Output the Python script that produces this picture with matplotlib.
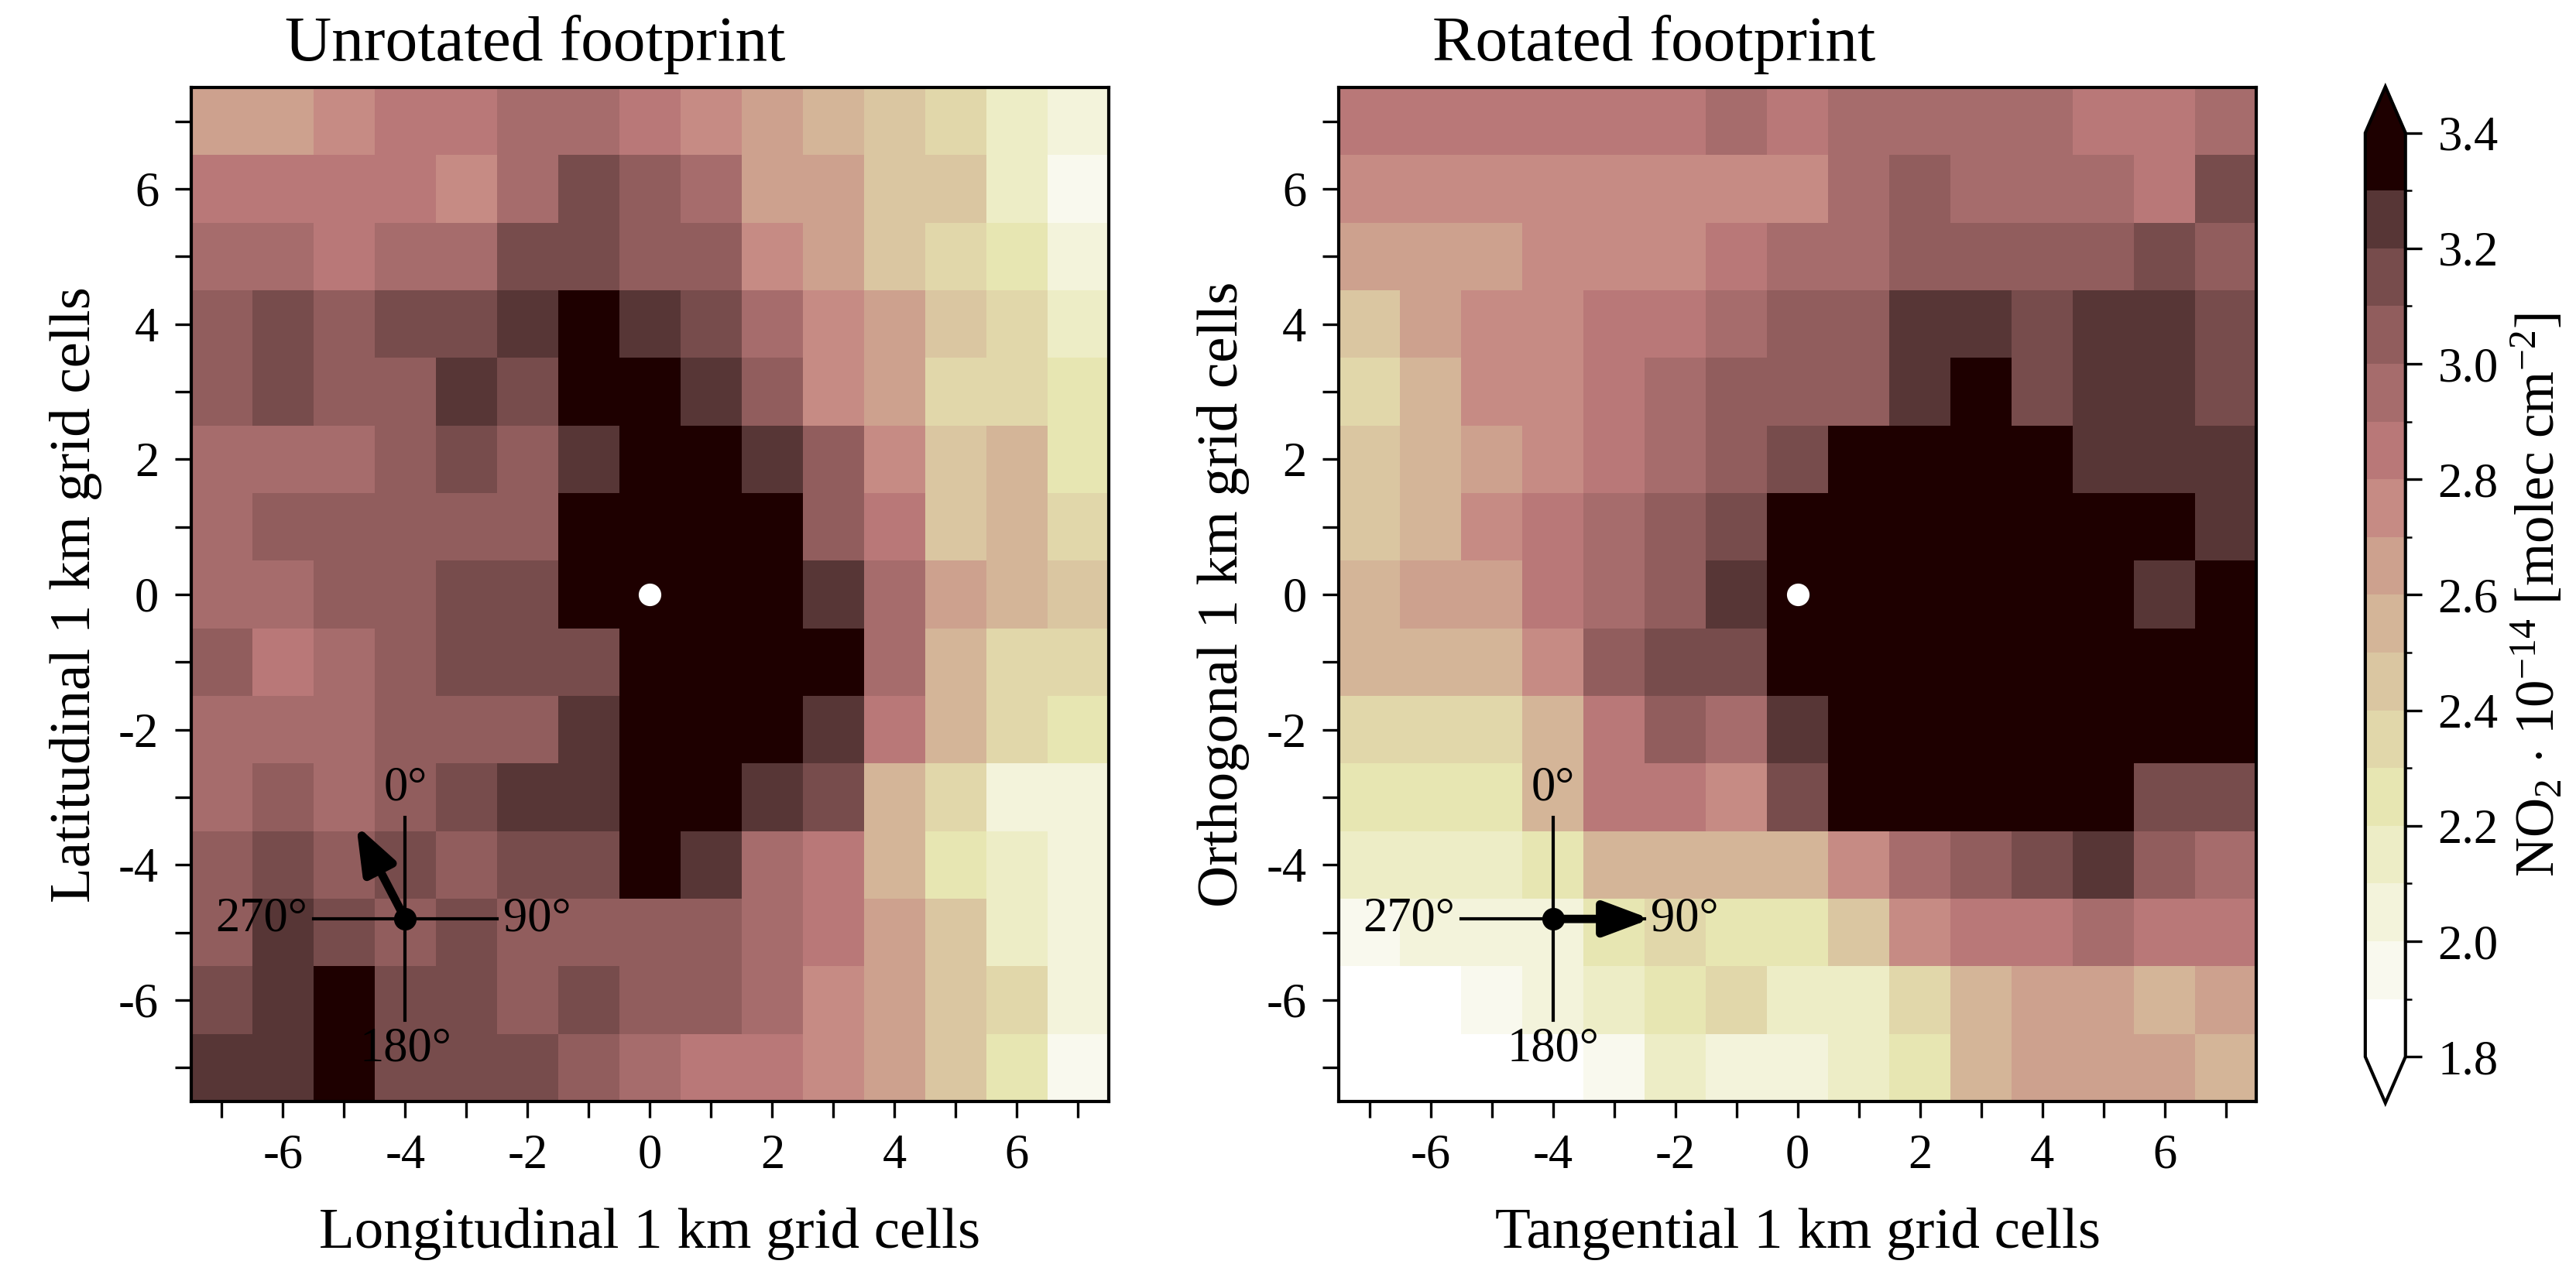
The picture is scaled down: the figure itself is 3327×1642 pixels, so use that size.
import numpy as np
import matplotlib
matplotlib.use("Agg")
import matplotlib.pyplot as plt
from matplotlib.colors import BoundaryNorm

plt.rcParams['font.family'] = ['Liberation Serif', 'DejaVu Serif']
plt.rcParams['mathtext.fontset'] = 'custom'
plt.rcParams['mathtext.rm'] = 'Liberation Serif'
plt.rcParams['mathtext.it'] = 'Liberation Serif:italic'
plt.rcParams['axes.unicode_minus'] = False

# grid cell centres (1 km cells around the source)
cells = np.arange(-7, 8)

# NO2 columns (1e14 molec cm-2), rows from top (y=7) to bottom (y=-7)
unrotated = [
    [2.65, 2.65, 2.75, 2.85, 2.85, 2.95, 2.95, 2.85, 2.75, 2.65, 2.55, 2.45, 2.35, 2.15, 2.05],
    [2.85, 2.85, 2.85, 2.85, 2.75, 2.95, 3.15, 3.05, 2.95, 2.65, 2.65, 2.45, 2.45, 2.15, 1.95],
    [2.95, 2.95, 2.85, 2.95, 2.95, 3.15, 3.15, 3.05, 3.05, 2.75, 2.65, 2.45, 2.35, 2.25, 2.05],
    [3.05, 3.15, 3.05, 3.15, 3.15, 3.25, 3.35, 3.25, 3.15, 2.95, 2.75, 2.65, 2.45, 2.35, 2.15],
    [3.05, 3.15, 3.05, 3.05, 3.25, 3.15, 3.35, 3.35, 3.25, 3.05, 2.75, 2.65, 2.35, 2.35, 2.25],
    [2.95, 2.95, 2.95, 3.05, 3.15, 3.05, 3.25, 3.35, 3.35, 3.25, 3.05, 2.75, 2.45, 2.55, 2.25],
    [2.95, 3.05, 3.05, 3.05, 3.05, 3.05, 3.35, 3.35, 3.35, 3.35, 3.05, 2.85, 2.45, 2.55, 2.35],
    [2.95, 2.95, 3.05, 3.05, 3.15, 3.15, 3.35, 3.35, 3.35, 3.35, 3.25, 2.95, 2.65, 2.55, 2.45],
    [3.05, 2.85, 2.95, 3.05, 3.15, 3.15, 3.15, 3.35, 3.35, 3.35, 3.35, 2.95, 2.55, 2.35, 2.35],
    [2.95, 2.95, 2.95, 3.05, 3.05, 3.05, 3.25, 3.35, 3.35, 3.35, 3.25, 2.85, 2.55, 2.35, 2.25],
    [2.95, 3.05, 2.95, 3.05, 3.15, 3.25, 3.25, 3.35, 3.35, 3.25, 3.15, 2.55, 2.35, 2.05, 2.05],
    [3.05, 3.15, 3.05, 3.15, 3.05, 3.15, 3.15, 3.35, 3.25, 2.95, 2.85, 2.55, 2.25, 2.15, 2.05],
    [3.05, 3.25, 3.15, 3.05, 3.15, 3.05, 3.05, 3.05, 3.05, 2.95, 2.85, 2.65, 2.45, 2.15, 2.05],
    [3.15, 3.25, 3.35, 3.15, 3.15, 3.05, 3.15, 3.05, 3.05, 2.95, 2.75, 2.65, 2.45, 2.35, 2.05],
    [3.25, 3.25, 3.35, 3.15, 3.15, 3.15, 3.05, 2.95, 2.85, 2.85, 2.75, 2.65, 2.45, 2.25, 1.95],
]

rotated = [
    [2.85, 2.85, 2.85, 2.85, 2.85, 2.85, 2.95, 2.85, 2.95, 2.95, 2.95, 2.95, 2.85, 2.85, 2.95],
    [2.75, 2.75, 2.75, 2.75, 2.75, 2.75, 2.75, 2.75, 2.95, 3.05, 2.95, 2.95, 2.95, 2.85, 3.15],
    [2.65, 2.65, 2.65, 2.75, 2.75, 2.75, 2.85, 2.95, 2.95, 3.05, 3.05, 3.05, 3.05, 3.15, 3.05],
    [2.45, 2.65, 2.75, 2.75, 2.85, 2.85, 2.95, 3.05, 3.05, 3.25, 3.25, 3.15, 3.25, 3.25, 3.15],
    [2.35, 2.55, 2.75, 2.75, 2.85, 2.95, 3.05, 3.05, 3.05, 3.25, 3.35, 3.15, 3.25, 3.25, 3.15],
    [2.45, 2.55, 2.65, 2.75, 2.85, 2.95, 3.05, 3.15, 3.35, 3.35, 3.35, 3.35, 3.25, 3.25, 3.25],
    [2.45, 2.55, 2.75, 2.85, 2.95, 3.05, 3.15, 3.35, 3.35, 3.35, 3.35, 3.35, 3.35, 3.35, 3.25],
    [2.55, 2.65, 2.65, 2.85, 2.95, 3.05, 3.25, 3.35, 3.35, 3.35, 3.35, 3.35, 3.35, 3.25, 3.35],
    [2.55, 2.55, 2.55, 2.75, 3.05, 3.15, 3.15, 3.35, 3.35, 3.35, 3.35, 3.35, 3.35, 3.35, 3.35],
    [2.35, 2.35, 2.35, 2.55, 2.85, 3.05, 2.95, 3.25, 3.35, 3.35, 3.35, 3.35, 3.35, 3.35, 3.35],
    [2.25, 2.25, 2.25, 2.55, 2.85, 2.85, 2.75, 3.15, 3.35, 3.35, 3.35, 3.35, 3.35, 3.15, 3.15],
    [2.15, 2.15, 2.15, 2.25, 2.55, 2.55, 2.55, 2.55, 2.75, 2.95, 3.05, 3.15, 3.25, 3.05, 2.95],
    [1.95, 2.05, 2.05, 2.05, 2.25, 2.35, 2.25, 2.25, 2.45, 2.75, 2.85, 2.85, 2.95, 2.85, 2.85],
    [1.85, 1.85, 1.95, 2.05, 2.15, 2.25, 2.35, 2.15, 2.15, 2.35, 2.55, 2.65, 2.65, 2.55, 2.65],
    [1.85, 1.85, 1.85, 1.85, 1.95, 2.15, 2.05, 2.05, 2.15, 2.25, 2.55, 2.65, 2.65, 2.65, 2.55],
]

# wind direction (deg from north) drawn on the compass
wind_unrot = 330
wind_rot = 90
compass_xy = (-4, -4.8)

levels = np.round(np.arange(1.8, 3.41, 0.1), 2)
cmap = matplotlib.colormaps['pink_r'].resampled(len(levels) - 1)
norm = BoundaryNorm(levels, cmap.N)

fig = plt.figure(figsize=(3327 / 300, 1642 / 300), dpi=300)
ax1 = fig.add_axes([0.0742, 0.1334, 0.3562, 0.7978])
ax2 = fig.add_axes([0.5197, 0.1334, 0.3562, 0.7978])
cax = fig.add_axes([0.9182, 0.1322, 0.0156, 0.7996])

edges = np.arange(-7.5, 8.0, 1.0)


def draw_compass(ax, wind):
    cx, cy = compass_xy
    r = 1.5
    ax.plot([cx - r, cx + r], [cy, cy], color='k', lw=1.0, zorder=3)
    ax.plot([cx, cx], [cy - r, cy + r], color='k', lw=1.0, zorder=3)
    L = 1.6
    dx = L * np.sin(np.deg2rad(wind))
    dy = L * np.cos(np.deg2rad(wind))
    ax.annotate('', xy=(cx + dx, cy + dy), xytext=(cx, cy),
                arrowprops=dict(arrowstyle='-|>,head_width=0.45,head_length=1.2',
                                mutation_scale=10, lw=2.6, color='k',
                                shrinkA=0, shrinkB=0), zorder=4)
    ax.plot(cx, cy, 'o', color='k', ms=6, zorder=5)
    fs = 15
    ax.annotate('0°', (cx, cy + r), xytext=(0, 2), textcoords='offset points',
                ha='center', va='bottom', fontsize=fs)
    ax.annotate('90°', (cx + r, cy), xytext=(2, 0), textcoords='offset points',
                ha='left', va='center', fontsize=fs)
    ax.annotate('180°', (cx, cy - r), xytext=(0, -2), textcoords='offset points',
                ha='center', va='top', fontsize=fs)
    ax.annotate('270°', (cx - r, cy), xytext=(-2, 0), textcoords='offset points',
                ha='right', va='center', fontsize=fs)


panels = [
    (ax1, unrotated, "Unrotated footprint", "Longitudinal 1 km grid cells",
     "Latitudinal 1 km grid cells", wind_unrot),
    (ax2, rotated, "Rotated footprint", "Tangential 1 km grid cells",
     "Orthogonal 1 km grid cells", wind_rot),
]

for ax, data, title, xlab, ylab, wind in panels:
    z = np.flipud(np.array(data))
    mesh = ax.pcolormesh(edges, edges, z, cmap=cmap, norm=norm)
    ax.set_xlim(-7.5, 7.5)
    ax.set_ylim(-7.5, 7.5)
    ax.set_aspect('auto')
    ax.set_xticks(cells)
    ax.set_yticks(cells)
    ax.set_xticklabels([str(c) if c % 2 == 0 else '' for c in cells])
    ax.set_yticklabels([str(c) if c % 2 == 0 else '' for c in cells])
    ax.tick_params(length=5, width=0.8, labelsize=15, pad=5)
    for s in ax.spines.values():
        s.set_linewidth(1.0)
    ax.set_xlabel(xlab, fontsize=18, labelpad=9)
    ax.set_ylabel(ylab, fontsize=18, labelpad=5)
    ax.text(0.102, 1.027, title, transform=ax.transAxes, ha='left',
            va='baseline', fontsize=20)
    ax.plot(0, 0, 'o', color='white', ms=6, zorder=5)
    draw_compass(ax, wind)

cb = fig.colorbar(mesh, cax=cax, extend='both', ticks=levels[::2])
cb.ax.set_yticklabels([f"{v:.1f}" for v in levels[::2]])
cb.ax.tick_params(length=5, width=0.8, labelsize=15, pad=5)
cb.outline.set_linewidth(1.0)
cb.set_label(r"NO$_2$ $\cdot$ 10$^{-14}$ [molec cm$^{-2}$]", fontsize=17, labelpad=4)

fig.savefig("out.png", dpi=300)
